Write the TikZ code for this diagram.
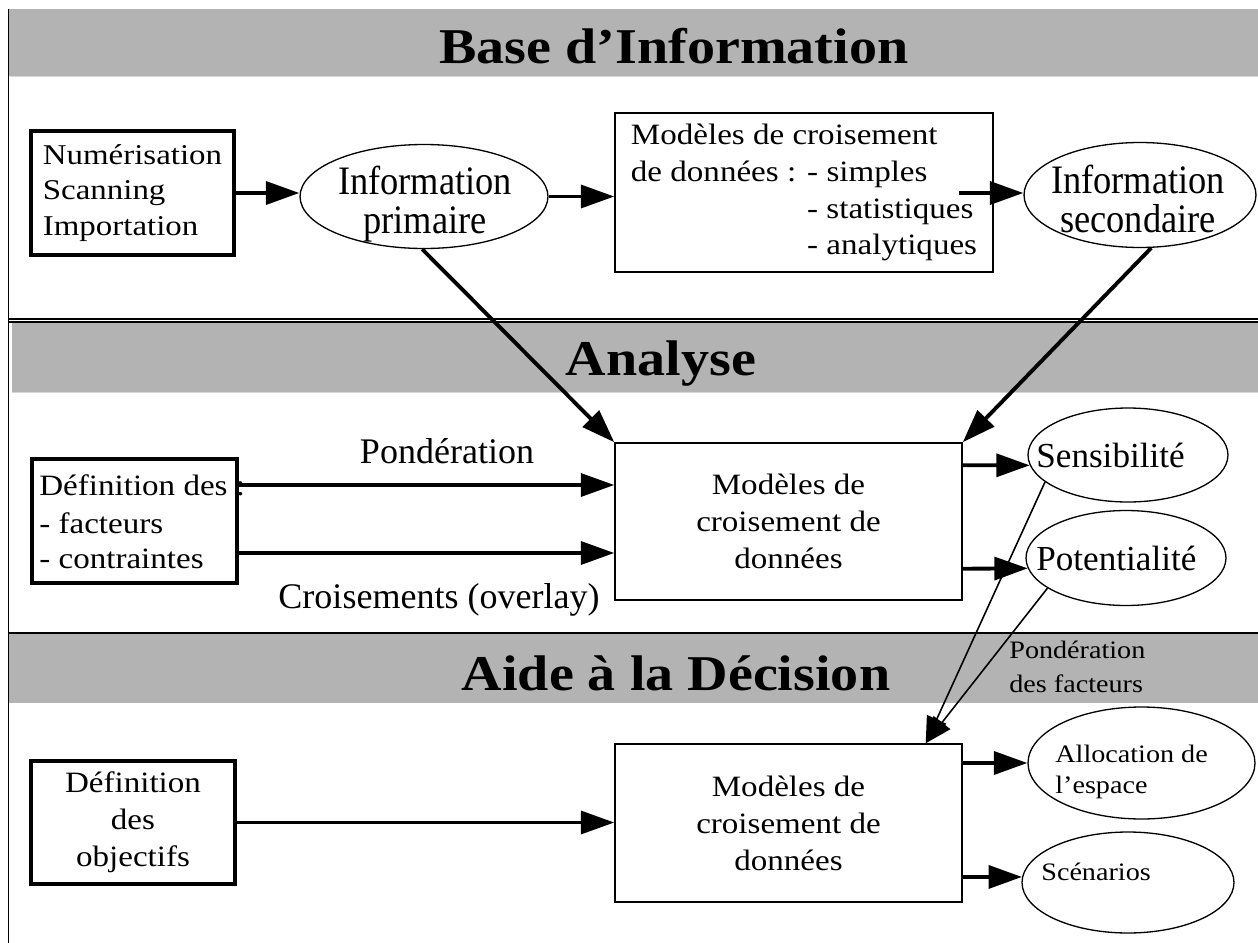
\documentclass[tikz,border=0pt]{standalone}
\usepackage{fontspec}
\setmainfont{Liberation Serif}[FakeStretch=1.12]
\newfontfamily\condfont{Liberation Serif}[FakeStretch=0.9]
\newfontfamily\widefont{Liberation Serif}[FakeStretch=1.15]
\newfontfamily\labfont{Liberation Serif}[FakeStretch=1.0]
\usetikzlibrary{arrows.meta,shapes.geometric}
\definecolor{bandgray}{RGB}{179,179,179}
\definecolor{bandedge}{RGB}{214,214,214}
\tikzset{
  thickbox/.style={draw, line width=2.3pt, rectangle, inner sep=0pt},
  thinbox/.style={draw, line width=0.85pt, rectangle, inner sep=0pt},
  ell/.style={draw, ellipse, line width=0.75pt, inner sep=0pt},
  arr/.style={line width=2.2pt, -{Triangle[length=19pt,width=13pt]}},
  thinarr/.style={line width=0.9pt, -{Triangle[length=15pt,width=12pt]}},
  txt/.style={inner sep=0pt, anchor=base west},
  ctxt/.style={inner sep=0pt, anchor=base},
  title/.style={inner sep=0pt, anchor=base, font=\fontsize{28.5}{30}\selectfont\bfseries},
  main/.style={font=\fontsize{16.8}{21}\selectfont},
  small/.style={font=\fontsize{14.3}{17}\selectfont},
  lbl/.style={inner sep=0pt, anchor=base, font=\labfont\fontsize{20.5}{22}\selectfont},
  mid/.style={font=\labfont\fontsize{20}{22}\selectfont},
  big/.style={font=\condfont\fontsize{23}{22.8}\selectfont},
}
\begin{document}
\begin{tikzpicture}[x=0.02cm,y=-0.02cm]
\useasboundingbox (0,0) rectangle (1258,943);
% section bands
\fill[bandgray] (9,9) rectangle (1258,76);
\draw[bandedge, line width=0.6pt] (10,76.5) -- (1258,76.5);
\fill[bandgray] (12,323) rectangle (1258,392);
\draw[bandedge, line width=0.6pt] (12,392.5) -- (1258,392.5);
\fill[bandgray] (9,634) rectangle (1258,703);
\draw[line width=0.6pt] (8,319) -- (1258,319);
\draw[line width=1pt] (8,322) -- (1258,322);
\draw[line width=1.1pt] (8,633) -- (1258,633);
\draw[line width=1.1pt] (8.5,9) -- (8.5,943);
% titles
\node[title] (t1) at (674,63) {Base d’Information};
\node[title] (t2) at (661,375) {Analyse};
\node[title] (t3) at (676,690) {Aide à la Décision};
% Base d'information
\node[thickbox, minimum width=4.06cm, minimum height=2.48cm, align=left, font=\widefont\fontsize{16.3}{20}\selectfont] (b1) at (132.5,193) {Numérisation\\Scanning\\Importation};
\node[ell, minimum width=4.96cm, minimum height=2.08cm] (e1) at (424,196.5) {};
\node[ctxt, big] (e1a) at (425,194) {Information};
\node[ctxt, big] (e1b) at (425,233) {primaire};
\node[thinbox, minimum width=7.56cm, minimum height=3.18cm, align=left, main] (b2) at (804,192.5) {Modèles de croisement\\de données : - simples\\\phantom{de données : }- statistiques\\\phantom{de données : }- analytiques};
\node[ell, minimum width=4.64cm, minimum height=2.1cm] (e2) at (1140,195) {};
\node[ctxt, big] (e2a) at (1138,193) {Information};
\node[ctxt, big] (e2b) at (1138,232) {secondaire};
% Analyse
\node[thinbox, minimum width=6.94cm, minimum height=3.14cm, align=center, main] (b3) at (788.5,521.5) {Modèles de\\croisement de\\données};
\node[thickbox, minimum width=4.1cm, minimum height=2.48cm] (d1) at (134.5,521) {};
\node[txt, main] (d1a) at (39,495) {Définition des :};
\node[txt, main] (d1b) at (39,533) {- facteurs};
\node[txt, main] (d1c) at (39,568) {- contraintes};
\node[lbl] (lp) at (447,463) {Pondération};
\node[lbl] (lc) at (439,608) {Croisements (overlay)};
\node[ell, minimum width=4cm, minimum height=1.88cm] (s) at (1128,455) {};
\node[txt, mid] (st) at (1036,467) {Sensibilité};
\node[ell, minimum width=4cm, minimum height=1.9cm] (p) at (1126,558) {};
\node[txt, mid] (pt) at (1036,570) {Potentialité};
% Aide a la decision
\node[thickbox, minimum width=4.08cm, minimum height=2.46cm, align=center, main] (d2) at (133,822.5) {Définition\\des\\objectifs};
\node[thinbox, minimum width=6.94cm, minimum height=3.16cm, align=center, main] (b4) at (788.5,823) {Modèles de\\croisement de\\données};
\node[ell, minimum width=4.54cm, minimum height=2.24cm] (a) at (1141.5,763) {};
\node[txt, small] (at1) at (1055,762) {Allocation de};
\node[txt, small] (at2) at (1055,793) {l’espace};
\node[ell, minimum width=4.24cm, minimum height=2.02cm] (sc) at (1128,882.5) {};
\node[txt, small] (sct) at (1041,880) {Scénarios};
\node[txt, small] (pf1) at (1009,658) {Pondération};
\node[txt, small] (pf2) at (1009,692) {des facteurs};
% connectors
\coordinate (b2o) at (959,193);
\draw[arr] (b1.east) -- (b1.east -| e1.west);
\draw[arr] (e1.east) -- (e1.east -| b2.west);
\draw[arr] (b2o) -- (b2o -| e2.west);
\draw[arr] (e1.268) -- (b3.north west);
\draw[arr] (e2.282) -- (b3.north east);
\draw[arr] ([yshift=0.72cm]d1.east) -- ([yshift=0.72cm]d1.east -| b3.west);
\draw[arr] ([yshift=-0.64cm]d1.east) -- ([yshift=-0.64cm]d1.east -| b3.west);
\draw[arr] ([yshift=-0.46cm]b3.north east) -- (s.186);
\draw[arr] ([yshift=0.64cm]b3.south east) -- (p.186);
\draw[thinarr] (s.198) -- ([xshift=-0.74cm]b4.north east);
\draw[thinarr] (p.201) -- ([xshift=-0.74cm]b4.north east);
\draw[arr] (a.west -| b4.east) -- (a.west);
\draw[arr] (sc.177 -| b4.east) -- (sc.177);
\draw[arr] (d2.east) -- (d2.east -| b4.west);
\end{tikzpicture}
\end{document}
